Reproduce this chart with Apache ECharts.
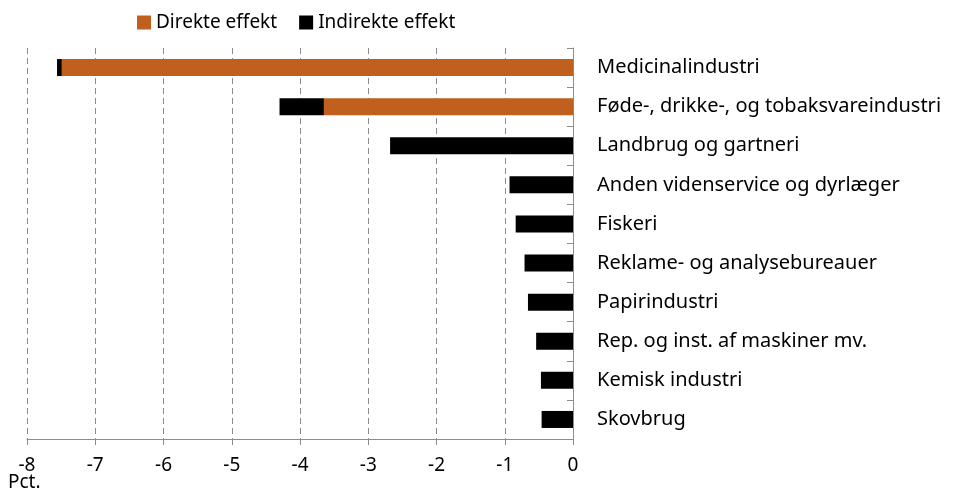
<!DOCTYPE html>
<html>
<head>
<meta charset="utf-8">
<script src="https://cdn.jsdelivr.net/npm/echarts@6/dist/echarts.min.js"></script>
<style>
  html, body { margin: 0; padding: 0; background: #fff; }
  #chart { width: 956px; height: 493px; }
</style>
</head>
<body>
<div id="chart"></div>
<script>
// brancher, fra top til bund
const categories = [
    'Medicinalindustri',
    'Føde-, drikke-, og tobaksvareindustri',
    'Landbrug og gartneri',
    'Anden videnservice og dyrlæger',
    'Fiskeri',
    'Reklame- og analysebureauer',
    'Papirindustri',
    'Rep. og inst. af maskiner mv.',
    'Kemisk industri',
    'Skovbrug'
]
const direkte = [-7.49, -3.65, 0, 0, 0, 0, 0, 0, 0, 0]
const indirekte = [-0.07, -0.65, -2.68, -0.93, -0.84, -0.71, -0.66, -0.54, -0.47, -0.46]

const font = 'Noto Sans'
const chart = echarts.init(document.getElementById('chart'))

const option = {
    animation: false,
    textStyle: { fontFamily: font },
    legend: {
        top: 8,
        left: 132,
        itemWidth: 14,
        itemHeight: 14,
        itemGap: 22,
        icon: 'rect',
        textStyle: { fontSize: 19, color: '#000', fontFamily: font },
        data: ['Direkte effekt', 'Indirekte effekt']
    },
    grid: { left: 27, right: 383, top: 48, bottom: 54 },
    xAxis: {
        type: 'value',
        min: -8,
        max: 0,
        interval: 1,
        axisLine: { show: true, lineStyle: { color: '#8c8c8c' } },
        axisTick: { show: true, length: 6, lineStyle: { color: '#8c8c8c' } },
        axisLabel: { fontSize: 19, color: '#000', margin: 17, fontFamily: font },
        splitLine: { show: true, lineStyle: { color: '#8c8c8c', type: [6, 4] } }
    },
    yAxis: {
        type: 'category',
        position: 'right',
        inverse: true,
        data: categories,
        axisLine: { show: true, onZero: false, lineStyle: { color: '#8c8c8c' } },
        axisTick: { show: true, inside: true, length: 6, lineStyle: { color: '#8c8c8c' } },
        axisLabel: { fontSize: 20, color: '#000', margin: 24, fontFamily: font },
        splitLine: { show: false }
    },
    series: [
        {
            name: 'Direkte effekt',
            type: 'bar',
            stack: 'total',
            barWidth: 17,
            itemStyle: { color: '#C05F1E' },
            data: direkte
        },
        {
            name: 'Indirekte effekt',
            type: 'bar',
            stack: 'total',
            barWidth: 17,
            itemStyle: { color: '#000' },
            data: indirekte
        }
    ],
    graphic: [
        {
            type: 'text',
            left: 8,
            top: 473,
            style: { text: 'Pct.', fontSize: 19, fill: '#000', fontFamily: font }
        }
    ]
}

chart.setOption(option)
</script>
</body>
</html>
